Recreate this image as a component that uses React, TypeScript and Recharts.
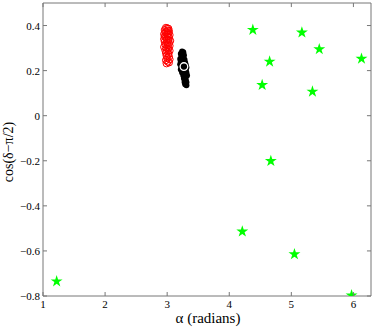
import React from "react";
import {
  ScatterChart,
  Scatter,
  XAxis,
  YAxis,
  ReferenceLine,
  Symbols,
} from "recharts";

const X_MIN = 1;
const X_MAX = 2 * Math.PI;
const Y_MIN = -0.8;
const Y_MAX = 0.5;

const xTicks = [1, 2, 3, 4, 5, 6];
const yTicks = [-0.8, -0.6, -0.4, -0.2, 0, 0.2, 0.4];

// green stars
const starX = [1.22, 4.38, 5.17, 5.45, 4.65, 6.13, 4.53, 5.34, 4.67, 4.21, 5.05, 5.97];
const starY = [-0.735, 0.381, 0.369, 0.295, 0.24, 0.253, 0.136, 0.107, -0.201, -0.514, -0.615, -0.797];

// red open circles
const redX = [
  2.98, 3.0, 3.02, 2.96, 3.01, 3.03, 2.97, 2.99, 3.02, 2.95, 3.0, 3.04, 2.96, 2.98,
  3.01, 3.03, 2.95, 2.99, 3.02, 3.05, 2.96, 3.0, 3.03, 2.97, 3.01, 3.04, 2.95, 2.99,
  3.02, 2.97, 3.0, 3.04, 2.98, 3.02, 2.99, 3.03, 3.0, 3.04, 2.98, 3.01, 3.03, 2.99,
];
const redY = [
  0.39, 0.388, 0.386, 0.38, 0.378, 0.375, 0.37, 0.372, 0.366, 0.362, 0.36, 0.358, 0.352, 0.348,
  0.35, 0.345, 0.34, 0.338, 0.335, 0.332, 0.328, 0.325, 0.322, 0.316, 0.312, 0.31, 0.305, 0.3,
  0.298, 0.29, 0.286, 0.288, 0.278, 0.275, 0.266, 0.262, 0.255, 0.25, 0.246, 0.24, 0.236, 0.232,
];

// black filled dots
const blackX = [
  3.24, 3.26, 3.22, 3.25, 3.27, 3.23, 3.26, 3.21, 3.24, 3.28, 3.22, 3.25, 3.29, 3.21, 3.24, 3.3,
  3.23, 3.27, 3.31, 3.22, 3.26, 3.3, 3.24, 3.28, 3.31, 3.26, 3.29, 3.32, 3.27, 3.3, 3.28, 3.31,
  3.29, 3.31,
];
const blackY = [
  0.285, 0.282, 0.275, 0.272, 0.268, 0.262, 0.258, 0.252, 0.25, 0.248, 0.24, 0.238, 0.235, 0.228,
  0.225, 0.225, 0.215, 0.212, 0.214, 0.205, 0.2, 0.202, 0.192, 0.188, 0.19, 0.178, 0.175, 0.178,
  0.165, 0.16, 0.15, 0.148, 0.14, 0.135,
];

// white ring marker
const markX = [3.27];
const markY = [0.218];

const zip = (xs: number[], ys: number[]) => xs.map((x, i) => ({ x, y: ys[i] }));

const stars = zip(starX, starY);
const reds = zip(redX, redY);
const blacks = zip(blackX, blackY);
const marks = zip(markX, markY);

const AXIS = "#777";
const FONT = "'Liberation Serif', 'DejaVu Serif', serif";

const fmt = (v: number) => (v < 0 ? "\u2212" + String(-v) : String(v));

const BottomTick = ({ x, y, payload }: any) => (
  <g>
    <line x1={x} x2={x} y1={y} y2={y - 4} stroke={AXIS} />
    <text x={x} y={y + 12} textAnchor="middle" fontSize={11} fontFamily={FONT} fill="#000">
      {payload.value}
    </text>
  </g>
);

const LeftTick = ({ x, y, payload }: any) => (
  <g>
    <line x1={x} x2={x + 4} y1={y} y2={y} stroke={AXIS} />
    <text x={x - 3} y={y + 4} textAnchor="end" fontSize={11} fontFamily={FONT} fill="#000">
      {fmt(payload.value)}
    </text>
  </g>
);

export default function App() {
  return (
    <div style={{ position: "absolute", left: 0, top: 0, background: "#fff" }}>
      <ScatterChart
        width={374}
        height={329}
        margin={{ top: 3, right: 3, left: 0, bottom: 0 }}
      >
        <XAxis
          dataKey="x"
          type="number"
          domain={[X_MIN, X_MAX]}
          ticks={xTicks}
          allowDataOverflow
          height={33}
          tickSize={0}
          tickMargin={0}
          stroke={AXIS}
          tick={<BottomTick />}
          label={() => (
            <text x={208} y={323} textAnchor="middle" fontSize={15} fontFamily={FONT} fill="#000">
              {"\u03b1 (radians)"}
            </text>
          )}
        />
        <YAxis
          dataKey="y"
          type="number"
          domain={[Y_MIN, Y_MAX]}
          ticks={yTicks}
          allowDataOverflow
          width={43}
          tickSize={0}
          tickMargin={0}
          stroke={AXIS}
          tick={<LeftTick />}
          label={() => (
            <text
              x={13}
              y={152}
              transform="rotate(-90 13 152)"
              textAnchor="middle"
              fontSize={14}
              fontFamily={FONT}
              fill="#000"
            >
              {"cos(\u03b4\u2212\u03c0/2)"}
            </text>
          )}
        />
        {/* top and right box edges with inward ticks */}
        <ReferenceLine y={Y_MAX} stroke={AXIS} ifOverflow="visible" />
        <ReferenceLine x={X_MAX} stroke={AXIS} ifOverflow="visible" />
        {xTicks.map((t) => (
          <ReferenceLine
            key={"tx" + t}
            stroke={AXIS}
            ifOverflow="visible"
            segment={[
              { x: t, y: Y_MAX },
              { x: t, y: Y_MAX - 0.018 },
            ]}
          />
        ))}
        {yTicks.map((t) => (
          <ReferenceLine
            key={"ty" + t}
            stroke={AXIS}
            ifOverflow="visible"
            segment={[
              { x: X_MAX, y: t },
              { x: X_MAX - 0.065, y: t },
            ]}
          />
        ))}
        <Scatter
          data={reds}
          isAnimationActive={false}
          shape={(p: any) => (
            <circle cx={p.cx} cy={p.cy} r={3.5} fill="none" stroke="#ff0000" strokeWidth={1} />
          )}
        />
        <Scatter
          data={blacks}
          isAnimationActive={false}
          shape={(p: any) => <circle cx={p.cx} cy={p.cy} r={3} fill="#000" />}
        />
        <Scatter
          data={marks}
          isAnimationActive={false}
          shape={(p: any) => (
            <circle cx={p.cx} cy={p.cy} r={3.8} fill="none" stroke="#fff" strokeWidth={1.3} />
          )}
        />
        <Scatter
          data={stars}
          isAnimationActive={false}
          shape={(p: any) => (
            <Symbols cx={p.cx} cy={p.cy} type="star" size={44} fill="#00ff00" />
          )}
        />
      </ScatterChart>
    </div>
  );
}
